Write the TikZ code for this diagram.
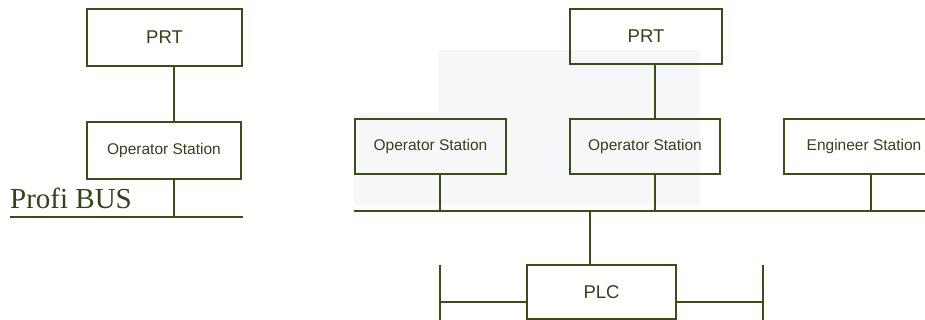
\documentclass[tikz,border=0pt]{standalone}
\usepackage{fontspec}
\setmainfont{Liberation Serif}
\newfontfamily\boxfont{Liberation Sans}
\begin{document}
\begin{tikzpicture}[x=1pt,y=-1pt,
  ink/.style={draw=lineg, line width=2pt},
  unit/.style={ink, rectangle, inner sep=0pt, text=textg, font=\boxfont\fontsize{15.5}{18}\selectfont},
  bigunit/.style={unit, font=\boxfont\fontsize{18.5}{21}\selectfont},
  wire/.style={draw=lineg, line width=2pt}]
\definecolor{lineg}{RGB}{58,78,26}
\definecolor{textg}{RGB}{50,66,26}
\definecolor{scan}{RGB}{246,247,249}
\useasboundingbox (0,0) rectangle (925,320);
\clip (0,0) rectangle (925,320);
% faint scan shading
\fill[scan] (438,50) rectangle (700,205);
\fill[scan] (354,113) rectangle (438,205);
% ---------- left diagram ----------
\node[bigunit, minimum width=155pt, minimum height=57pt] (prtL) at (164.5,37.5) {PRT};
\node[unit, minimum width=154pt, minimum height=57pt] (osL) at (164,150.5) {Operator Station};
\coordinate (busLa) at (10,217);
\coordinate (busLb) at (243,217);
\draw[wire] (busLa) -- (busLb);
\draw[wire] ([xshift=88pt]prtL.south west) -- ([xshift=88pt]osL.north west);
\draw[wire] ([xshift=88pt]osL.south west) -- ([xshift=88pt]osL.south west |- busLa);
\node[anchor=base west, inner sep=0pt, text=textg, font=\fontsize{29}{30}\selectfont] (profi) at (10,209) {Profi BUS};
% ---------- right diagram ----------
\node[bigunit, minimum width=152pt, minimum height=55pt] (prtR) at (646,36.5) {PRT};
\node[unit, minimum width=151pt, minimum height=55pt] (os1) at (430.5,146.5) {Operator Station};
\node[unit, minimum width=150pt, minimum height=55pt] (os2) at (645,146.5) {Operator Station};
\node[unit, minimum width=160pt, minimum height=55pt] (eng) at (864,146.5) {Engineer Station};
\coordinate (busRa) at (354,211);
\coordinate (busRb) at (930,211);
\draw[wire] (busRa) -- (busRb);
\draw[wire] ([xshift=86pt]prtR.south west) -- ([xshift=86pt]os2.north west);
\draw[wire] ([xshift=86pt]os1.south west) -- ([xshift=86pt]os1.south west |- busRa);
\draw[wire] ([xshift=86pt]os2.south west) -- ([xshift=86pt]os2.south west |- busRa);
\draw[wire] ([xshift=88pt]eng.south west) -- ([xshift=88pt]eng.south west |- busRa);
\node[bigunit, minimum width=149pt, minimum height=54pt] (plc) at (601.5,292) {PLC};
\draw[wire] ([xshift=64pt]plc.north west |- busRa) -- ([xshift=64pt]plc.north west);
\coordinate (sideLt) at (440,265);
\coordinate (sideLb) at (440,325);
\coordinate (sideRt) at (763,265);
\coordinate (sideRb) at (763,325);
\draw[wire] (sideLt) -- (sideLb);
\draw[wire] (sideRt) -- (sideRb);
\draw[wire] (sideLt |- 0,302) -- (plc.west |- 0,302);
\draw[wire] (plc.east |- 0,302) -- (sideRt |- 0,302);
\end{tikzpicture}
\end{document}
